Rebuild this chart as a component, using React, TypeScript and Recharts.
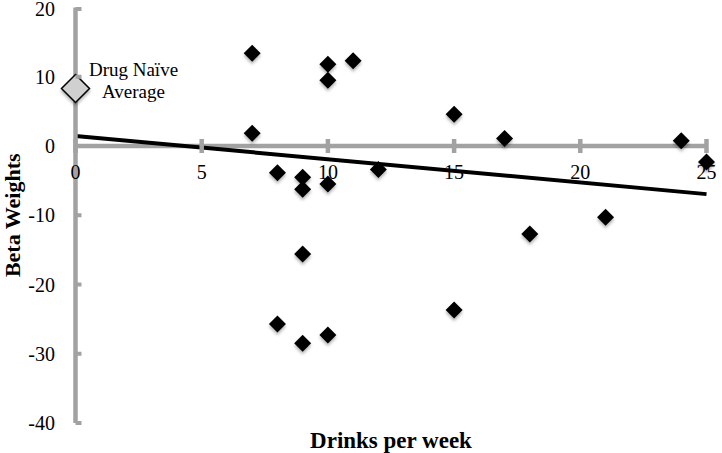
import { ScatterChart, Scatter, XAxis, YAxis, ReferenceLine } from "recharts";

// drinks per week vs beta weight, one entry per subject
const drinks = [7, 7, 8, 9, 9, 9, 10, 10, 10, 11, 12, 15, 17, 18, 21, 24, 25, 8, 9, 10, 15];
const betas = [13.4, 1.85, -3.85, -4.5, -6.25, -15.6, 11.8, 9.5, -5.5, 12.3, -3.4, 4.6, 1.1, -12.7, -10.3, 0.77, -2.3, -25.7, -28.5, -27.3, -23.7];

const naiveX = [0];
const naiveY = [8.3];

// fitted trend line end points
const trendX = [0, 25];
const trendY = [1.45, -6.95];

const xTicks = [0, 5, 10, 15, 20, 25];
const yTicks = [-40, -30, -20, -10, 0, 10, 20];

const Y_MIN = -40;
const Y_MAX = 20;
const W = 722;
const H = 453;
const MARGIN = { top: 7.5, right: 15.5, bottom: 0, left: 0 };
const Y_AXIS_W = 75.5;
const X_AXIS_H = 30;
const PLOT_H = H - MARGIN.top - MARGIN.bottom - X_AXIS_H;

const AXIS_GREY = "#a2a2a2";
const FONT = "'Liberation Serif', 'Times New Roman', serif";

const points = drinks.map((d, i) => ({ x: d, y: betas[i] }));
const naive = naiveX.map((d, i) => ({ x: d, y: naiveY[i] }));

function XTick(props: any) {
  const { x, y, payload } = props;
  // labels sit under the zero line, not at the bottom of the plot
  const yZero = y - (PLOT_H * (0 - Y_MIN)) / (Y_MAX - Y_MIN);
  return (
    <g>
      <line x1={x} x2={x} y1={yZero - 7} y2={yZero + 7} stroke={AXIS_GREY} strokeWidth={4.5} />
      <text x={x} y={yZero + 26} dy="0.35em" textAnchor="middle" fontFamily={FONT} fontSize={20} fill="#000">
        {payload.value}
      </text>
    </g>
  );
}

function YTick(props: any) {
  const { x, y, payload } = props;
  return (
    <g>
      <line x1={x} x2={x + 6} y1={y} y2={y} stroke={AXIS_GREY} strokeWidth={4} />
      <text x={x - 20.5} y={y} dy="0.35em" textAnchor="end" fontFamily={FONT} fontSize={20} fill="#000">
        {payload.value}
      </text>
    </g>
  );
}

function Diamond(props: any) {
  const { cx, cy } = props;
  const r = 8.5;
  return (
    <polygon
      points={`${cx},${cy - r} ${cx + r},${cy} ${cx},${cy + r} ${cx - r},${cy}`}
      fill="#000"
      filter="url(#dshadow)"
    />
  );
}

function NaiveDiamond(props: any) {
  const { cx, cy } = props;
  const r = 14;
  return (
    <g>
      <polygon
        points={`${cx},${cy - r} ${cx + r},${cy} ${cx},${cy + r} ${cx - r},${cy}`}
        fill="#d0d0d0"
        stroke="#000"
        strokeWidth={1.5}
        filter="url(#dshadow)"
      />
      <text x={cx + 58} textAnchor="middle" fontFamily={FONT} fontSize={19} fill="#000">
        <tspan x={cx + 58} y={cy - 12.3}>Drug Naïve</tspan>
        <tspan x={cx + 58} y={cy + 9.2}>Average</tspan>
      </text>
    </g>
  );
}

export default function App() {
  return (
    <div style={{ position: "absolute", left: 0, top: 0, width: W, height: H, background: "#fff" }}>
      <svg width={0} height={0} style={{ position: "absolute" }}>
        <defs>
          <filter id="dshadow" x="-60%" y="-60%" width="220%" height="220%">
            <feDropShadow dx="0" dy="2.5" stdDeviation="1.5" floodColor="#000" floodOpacity="0.3" />
          </filter>
        </defs>
      </svg>
      <ScatterChart width={W} height={H} margin={MARGIN}>
        <XAxis
          type="number"
          dataKey="x"
          domain={[0, 25]}
          ticks={xTicks}
          axisLine={false}
          tickLine={false}
          tickSize={0}
          tickMargin={0}
          height={X_AXIS_H}
          tick={XTick}
          label={{
            value: "Drinks per week",
            position: "insideBottom",
            offset: 5,
            style: { fontFamily: FONT, fontSize: 23, fontWeight: "bold", fill: "#000" },
          }}
        />
        <YAxis
          type="number"
          dataKey="y"
          domain={[Y_MIN, Y_MAX]}
          ticks={yTicks}
          width={Y_AXIS_W}
          axisLine={{ stroke: AXIS_GREY, strokeWidth: 4.5 }}
          tickLine={false}
          tickSize={0}
          tickMargin={0}
          tick={YTick}
          label={{
            value: "Beta Weights",
            angle: -90,
            position: "insideLeft",
            offset: 12,
            style: { textAnchor: "middle", fontFamily: FONT, fontSize: 22, fontWeight: "bold", fill: "#000" },
          }}
        />
        <ReferenceLine y={0} stroke={AXIS_GREY} strokeWidth={4.5} />
        <ReferenceLine
          segment={[
            { x: trendX[0], y: trendY[0] },
            { x: trendX[1], y: trendY[1] },
          ]}
          stroke="#000"
          strokeWidth={4}
        />
        <Scatter data={points} shape={Diamond} isAnimationActive={false} />
        <Scatter data={naive} shape={NaiveDiamond} isAnimationActive={false} />
      </ScatterChart>
    </div>
  );
}
